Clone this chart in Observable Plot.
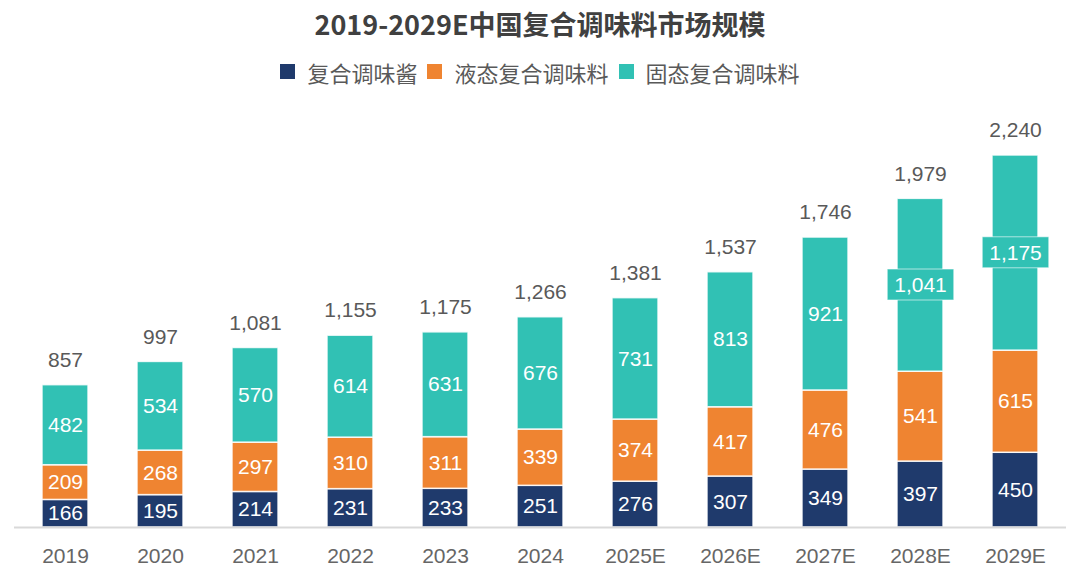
<!DOCTYPE html>
<html>
<head>
<meta charset="utf-8">
<script src="https://cdn.jsdelivr.net/npm/d3@7"></script>
<script src="https://cdn.jsdelivr.net/npm/@observablehq/plot@0.6"></script>
<style>
  html, body { margin: 0; padding: 0; background: #fff; }
  body { width: 1080px; height: 584px; overflow: hidden; font-family: "Noto Sans CJK SC", "Noto Sans", sans-serif; }
  #title { height: 48px; line-height: 48px; text-align: center; font-size: 27px; font-weight: bold; color: #404040; }
  #legend { height: 47px; display: flex; justify-content: center; align-items: center; gap: 10px; font-size: 22px; color: #595959; }
  #legend .item { display: flex; align-items: center; }
  #legend .sw { width: 15px; height: 15px; margin-right: 12px; display: inline-block; }
  #chart svg { display: block; }
</style>
</head>
<body>
<div id="title">2019-2029E中国复合调味料市场规模</div>
<div id="legend"></div>
<div id="chart"></div>
<script>
// Years on the x axis
const years = ["2019", "2020", "2021", "2022", "2023", "2024", "2025E", "2026E", "2027E", "2028E", "2029E"];
// Segment values, stacked bottom to top
const sauce = [166, 195, 214, 231, 233, 251, 276, 307, 349, 397, 450];
const liquid = [209, 268, 297, 310, 311, 339, 374, 417, 476, 541, 615];
const solid = [482, 534, 570, 614, 631, 676, 731, 813, 921, 1041, 1175];
// Totals shown above each bar
const totals = [857, 997, 1081, 1155, 1175, 1266, 1381, 1537, 1746, 1979, 2240];

const seriesNames = ["复合调味酱", "液态复合调味料", "固态复合调味料"];
const seriesColors = ["#1f3a6c", "#ef8431", "#31c1b4"];
const seriesValues = [sauce, liquid, solid];

// Legend
const legend = document.getElementById("legend");
seriesNames.forEach((name, i) => {
  const item = document.createElement("span");
  item.className = "item";
  item.innerHTML = `<span class="sw" style="background:${seriesColors[i]}"></span>${name}`;
  legend.appendChild(item);
});

// Long-format table for stacking
const rows = [];
seriesNames.forEach((name, s) => {
  years.forEach((year, i) => rows.push({year, series: name, value: seriesValues[s][i]}));
});
const totalRows = years.map((year, i) => ({year, total: totals[i]}));

const fmt = d3.format(",");
const numFont = "'Liberation Sans', Arial, sans-serif";

const chart = Plot.plot({
  width: 1080,
  height: 489,
  marginLeft: 14,
  marginRight: 14,
  marginTop: 60,
  marginBottom: 57,
  x: {domain: years, paddingInner: 0.52, paddingOuter: 0.26, label: null, tickSize: 0, tickPadding: 21},
  y: {domain: [0, 2240], axis: null},
  color: {domain: seriesNames, range: seriesColors},
  style: {fontFamily: numFont, fontSize: "21px", color: "#666666"},
  marks: [
    Plot.barY(rows, Plot.stackY({
      x: "year", y: "value", fill: "series",
      order: seriesNames, stroke: "#ffffff", strokeWidth: 1.5, strokeOpacity: 0.85
    })),
    Plot.text(rows, Plot.stackY({
      x: "year", y: "value", z: "series",
      order: seriesNames,
      text: d => fmt(d.value),
      fill: "#ffffff",
      fontSize: 21,
      fontFamily: numFont,
      className: "seg-labels"
    })),
    Plot.text(totalRows, {
      x: "year", y: "total", text: d => fmt(d.total),
      dy: -25, fill: "#595959", fontSize: 21, fontFamily: numFont
    }),
    Plot.ruleY([0], {stroke: "#d9d9d9", strokeWidth: 2})
  ]
});
document.getElementById("chart").appendChild(chart);

// Labels wider than the bar get a filled box behind them
d3.select(chart).selectAll("g.seg-labels text").each(function () {
  if (!this.textContent.includes(",")) return;
  const b = this.getBBox();
  const t = this.getAttribute("transform");
  d3.select(this.parentNode).insert("rect", () => this)
    .attr("transform", t)
    .attr("x", b.x - 7)
    .attr("y", b.y - 4)
    .attr("width", b.width + 14)
    .attr("height", b.height + 8)
    .attr("fill", seriesColors[2])
    .attr("stroke", "#ffffff")
    .attr("stroke-opacity", 0.6)
    .attr("stroke-width", 1);
});
</script>
</body>
</html>
